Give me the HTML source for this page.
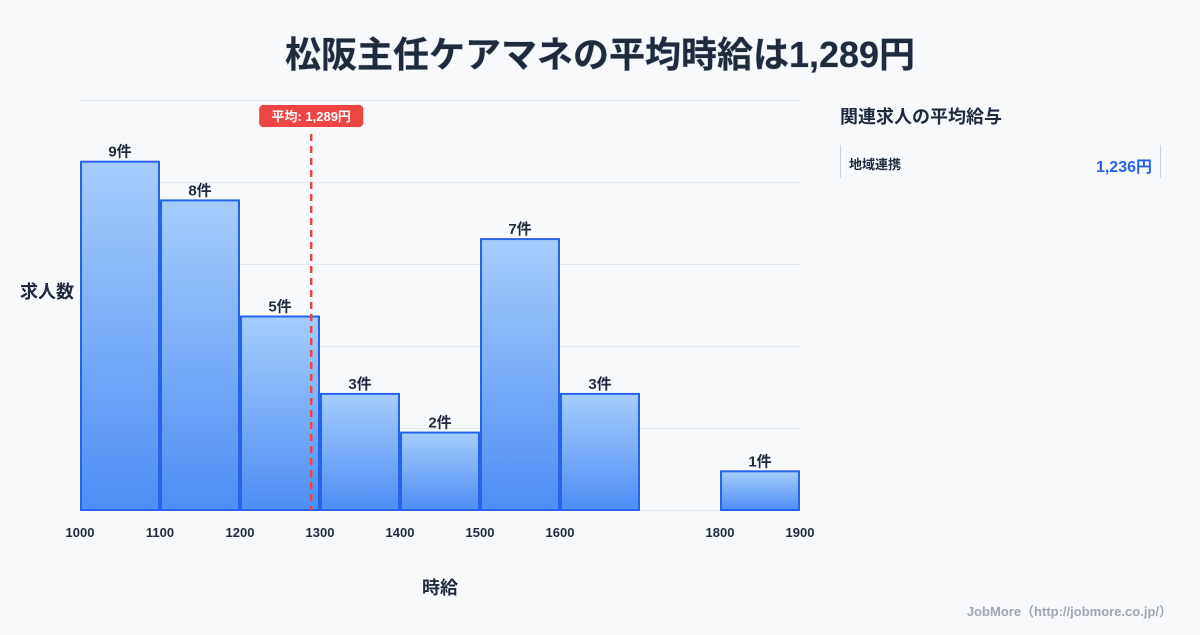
<!DOCTYPE html>
<html><head><meta charset="utf-8"><style>
body{margin:0;width:1200px;height:630px;background:#f8f9fb;font-family:"Liberation Sans","Noto Sans CJK JP",sans-serif;overflow:hidden}
</style></head><body>
<svg width="1200" height="630" xmlns="http://www.w3.org/2000/svg">
<defs><linearGradient id="g" x1="0" y1="0" x2="0" y2="1"><stop offset="0" stop-color="#a5cdfb"/><stop offset="1" stop-color="#4d8ef5"/></linearGradient></defs>
<text x="600" y="67" text-anchor="middle" font-size="36" font-weight="bold" fill="#1f2a3c" style="paint-order:stroke" stroke="#c9d2de" stroke-width="1">松阪主任ケアマネの平均時給は1,289円</text>
<g id="grid"></g><g id="bars"></g><g id="xt"></g>
<text x="20" y="298" font-size="18" font-weight="bold" fill="#1f2a3c">求人数</text>
<text x="440" y="594" text-anchor="middle" font-size="18" font-weight="bold" fill="#1f2a3c">時給</text>
<g id="avg"></g>
<text x="840" y="123" font-size="18" font-weight="bold" fill="#1f2a3c">関連求人の平均給与</text>
<line x1="840.5" y1="145" x2="840.5" y2="178" stroke="#cbd5e1"/>
<line x1="1160.5" y1="145" x2="1160.5" y2="178" stroke="#cbd5e1"/>
<text x="849" y="169" font-size="13" font-weight="bold" fill="#1f2a3c">地域連携</text>
<text x="1152" y="172" text-anchor="end" font-size="16" font-weight="bold" fill="#2563eb">1,236円</text>
<text x="1172" y="616" text-anchor="end" font-size="13" font-weight="bold" fill="#a0a6b0">JobMore（http://jobmore.co.jp/）</text>
</svg>
<script>
const binStarts=[1000,1100,1200,1300,1400,1500,1600,1800];
const counts=[9,8,5,3,2,7,3,1];
const xTicks=[1000,1100,1200,1300,1400,1500,1600,1800,1900];
const avgValue=1289;
const NS="http://www.w3.org/2000/svg";
const x=v=>80+(v-1000)*0.8;
const y=v=>510-v*38.7;
function mk(t,a,p){const e=document.createElementNS(NS,t);for(const k in a)e.setAttribute(k,a[k]);p.appendChild(e);return e;}
const grid=document.getElementById('grid');
for(let i=0;i<=5;i++){const gy=510-i*82;const l=mk('line',{x1:80,x2:800,y1:gy+.5,y2:gy+.5,stroke:'#e2e8f0'},grid);

}
const bars=document.getElementById('bars');
binStarts.forEach((b,i)=>{const x0=x(b)+1,x1=x(b+100)-1,yt=y(counts[i]);
const r=mk('rect',{x:x0,y:yt,width:x1-x0,height:510-yt,fill:'url(#g)',stroke:'#2563eb','stroke-width':2},bars);


const t=mk('text',{x:(x0+x1)/2,y:yt-5,'text-anchor':'middle','font-size':15,'font-weight':'bold',fill:'#1f2a3c'},bars);t.textContent=counts[i]+'件';

});
const xt=document.getElementById('xt');
xTicks.forEach(v=>{const t=mk('text',{x:x(v),y:537,'text-anchor':'middle','font-size':13,'font-weight':'bold',fill:'#1f2a3c'},xt);t.textContent=v;

});
const avg=document.getElementById('avg');const ax=x(avgValue);
const al=mk('line',{x1:ax,x2:ax,y1:134,y2:510,stroke:'#ef4444','stroke-width':2.5,'stroke-dasharray':'7,5'},avg);


const ab=mk('rect',{x:ax-52,y:105,width:104,height:22,rx:4,fill:'#ef4444'},avg);


const at=mk('text',{x:ax,y:121,'text-anchor':'middle','font-size':13,'font-weight':'bold',fill:'#fff'},avg);at.textContent='平均: 1,289円';


</script>
</body></html>
